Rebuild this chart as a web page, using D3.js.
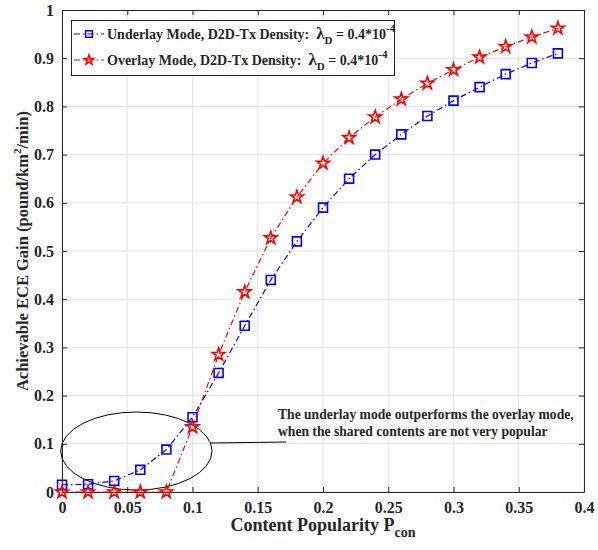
<!DOCTYPE html>
<html>
<head>
<meta charset="utf-8">
<script src="https://cdnjs.cloudflare.com/ajax/libs/d3/7.8.5/d3.min.js"></script>
<style>
  body { margin: 0; background: #fff; }
  text { font-family: "Liberation Serif", "Times New Roman", serif; font-weight: bold; fill: #262626; }
</style>
</head>
<body>
<div id="chart"></div>
<script>
// ---- data ----
const popularity = [0, 0.02, 0.04, 0.06, 0.08, 0.10, 0.12, 0.14, 0.16, 0.18,
                    0.20, 0.22, 0.24, 0.26, 0.28, 0.30, 0.32, 0.34, 0.36, 0.38];
const underlayGain = [0.015, 0.016, 0.023, 0.046, 0.088, 0.155, 0.247, 0.345, 0.440, 0.520,
                      0.590, 0.650, 0.700, 0.742, 0.780, 0.812, 0.840, 0.867, 0.890, 0.910];
const overlayGain = [0, 0, 0, 0, 0, 0.135, 0.285, 0.415, 0.527, 0.612,
                     0.682, 0.735, 0.778, 0.815, 0.848, 0.876, 0.902, 0.924, 0.944, 0.962];
const xTicks = [0, 0.05, 0.1, 0.15, 0.2, 0.25, 0.3, 0.35, 0.4];
const yTicks = [0, 0.1, 0.2, 0.3, 0.4, 0.5, 0.6, 0.7, 0.8, 0.9, 1];
// annotation ellipse: center, radii (data units)
const ellipseCenter = [0.057, 0.085];
const ellipseRadii = [0.058, 0.081];
const noteLines = ["The underlay mode outperforms the overlay mode,",
                   "when the shared contents are not very popular"];

const W = 598, H = 550;
const margin = { top: 10, right: 14, bottom: 58, left: 62 };

const svg = d3.select("#chart").append("svg")
  .attr("width", W).attr("height", H);

const x = d3.scaleLinear().domain([0, 0.4]).range([margin.left, W - margin.right]);
const y = d3.scaleLinear().domain([0, 1]).range([H - margin.bottom, margin.top]);

// grid
const grid = svg.append("g").attr("stroke", "#e3e3e3").attr("stroke-width", 1);
xTicks.forEach(t => grid.append("line")
  .attr("x1", x(t)).attr("x2", x(t)).attr("y1", y(0)).attr("y2", y(1)));
yTicks.forEach(t => grid.append("line")
  .attr("x1", x(0)).attr("x2", x(0.4)).attr("y1", y(t)).attr("y2", y(t)));

// axes (ticks inward, box on)
const fmt = d => d === 0 ? "0" : String(+d.toFixed(2));
const axB = svg.append("g").attr("transform", `translate(0,${y(0)})`)
  .call(d3.axisBottom(x).tickValues(xTicks).tickFormat(fmt).tickSizeInner(-5).tickSizeOuter(0).tickPadding(10));
const axL = svg.append("g").attr("transform", `translate(${x(0)},0)`)
  .call(d3.axisLeft(y).tickValues(yTicks).tickFormat(fmt).tickSizeInner(-5).tickSizeOuter(0).tickPadding(8));
const axT = svg.append("g").attr("transform", `translate(0,${y(1)})`)
  .call(d3.axisTop(x).tickValues(xTicks).tickFormat("").tickSizeInner(-5).tickSizeOuter(0));
const axR = svg.append("g").attr("transform", `translate(${x(0.4)},0)`)
  .call(d3.axisRight(y).tickValues(yTicks).tickFormat("").tickSizeInner(-5).tickSizeOuter(0));
[axB, axL, axT, axR].forEach(a => {
  a.selectAll("path, line").attr("stroke", "#262626");
  a.selectAll("text").style("font-size", "16px").attr("fill", "#262626")
    .style("font-family", "Liberation Serif").style("font-weight", "bold");
});

// annotation ellipse + pointer line
svg.append("ellipse")
  .attr("cx", x(ellipseCenter[0])).attr("cy", y(ellipseCenter[1]))
  .attr("rx", x(ellipseRadii[0]) - x(0)).attr("ry", y(0) - y(ellipseRadii[1]))
  .attr("fill", "none").attr("stroke", "#000").attr("stroke-width", 1);
svg.append("line")
  .attr("x1", x(ellipseCenter[0] + ellipseRadii[0]) - 2).attr("y1", y(ellipseCenter[1]) - 8)
  .attr("x2", 286).attr("y2", 442)
  .attr("stroke", "#000").attr("stroke-width", 1);
noteLines.forEach((s, i) => svg.append("text")
  .attr("x", 278).attr("y", 419 + i * 17).style("font-size", "13.6px").attr("fill", "#000").text(s));

// series
const line = d3.line().x((d, i) => x(popularity[i])).y(d => y(d));
const star = d3.symbol().type(d3.symbolStar).size(50);
const square = d3.symbol().type(d3.symbolSquare).size(80);
const starSmall = d3.symbol().type(d3.symbolStar).size(30);
const squareSmall = d3.symbol().type(d3.symbolSquare).size(45);

svg.append("path").datum(underlayGain).attr("d", line)
  .attr("fill", "none").attr("stroke", "#0000ff").attr("stroke-width", 1.2)
  .attr("stroke-dasharray", "6,3,1.5,3");
svg.append("path").datum(overlayGain).attr("d", line)
  .attr("fill", "none").attr("stroke", "#ff0000").attr("stroke-width", 1.2)
  .attr("stroke-dasharray", "6,3,1.5,3");

svg.append("g").selectAll("path").data(underlayGain).join("path")
  .attr("transform", (d, i) => `translate(${x(popularity[i])},${y(d)})`)
  .attr("d", square).attr("fill", "none").attr("stroke", "#0000ff").attr("stroke-width", 1.6);
svg.append("g").selectAll("path").data(overlayGain).join("path")
  .attr("transform", (d, i) => `translate(${x(popularity[i])},${y(d)})`)
  .attr("d", star).attr("fill", "none").attr("stroke", "#ff0000").attr("stroke-width", 1.6);

// legend
const lg = svg.append("g");
lg.append("rect").attr("x", 71.5).attr("y", 20.5).attr("width", 323).attr("height", 55)
  .attr("fill", "#fff").attr("stroke", "#262626").attr("stroke-width", 1);
const legendItems = [
  { label: "Underlay Mode, D2D-Tx Density:", color: "#0000ff", sym: squareSmall, yy: 34 },
  { label: "Overlay Mode, D2D-Tx Density:", color: "#ff0000", sym: starSmall, yy: 60 }
];
legendItems.forEach(it => {
  lg.append("line").attr("x1", 74).attr("x2", 104).attr("y1", it.yy).attr("y2", it.yy)
    .attr("stroke", it.color).attr("stroke-width", 1.2).attr("stroke-dasharray", "6,3,1.5,3");
  lg.append("path").attr("transform", `translate(89,${it.yy})`).attr("d", it.sym)
    .attr("fill", "none").attr("stroke", it.color).attr("stroke-width", 1.5);
  const t = lg.append("text").attr("x", 107).attr("y", it.yy + 5).style("font-size", "14px").attr("fill", "#000");
  t.append("tspan").text(it.label + "\u00a0\u00a0");
  t.append("tspan").text("\u03bb").style("font-size", "17px");
  t.append("tspan").text("D").attr("dy", 5).style("font-size", "11px");
  t.append("tspan").text(" = 0.4*10").attr("dy", -5);
  t.append("tspan").text("-4").attr("dy", -7).style("font-size", "11px");
});

// axis labels
const xl = svg.append("text").attr("x", x(0.2)).attr("y", 531).attr("text-anchor", "middle")
  .style("font-size", "18px");
xl.append("tspan").text("Content Popularity P");
xl.append("tspan").text("con").attr("dy", 6).style("font-size", "14px");

const yl = svg.append("text").attr("transform", `translate(28,${y(0.5)}) rotate(-90)`)
  .attr("text-anchor", "middle").style("font-size", "16.5px");
yl.append("tspan").text("Achievable ECE Gain (pound/km");
yl.append("tspan").text("2").attr("dy", -7).style("font-size", "11px");
yl.append("tspan").text("/min)").attr("dy", 7);
</script>
</body>
</html>
